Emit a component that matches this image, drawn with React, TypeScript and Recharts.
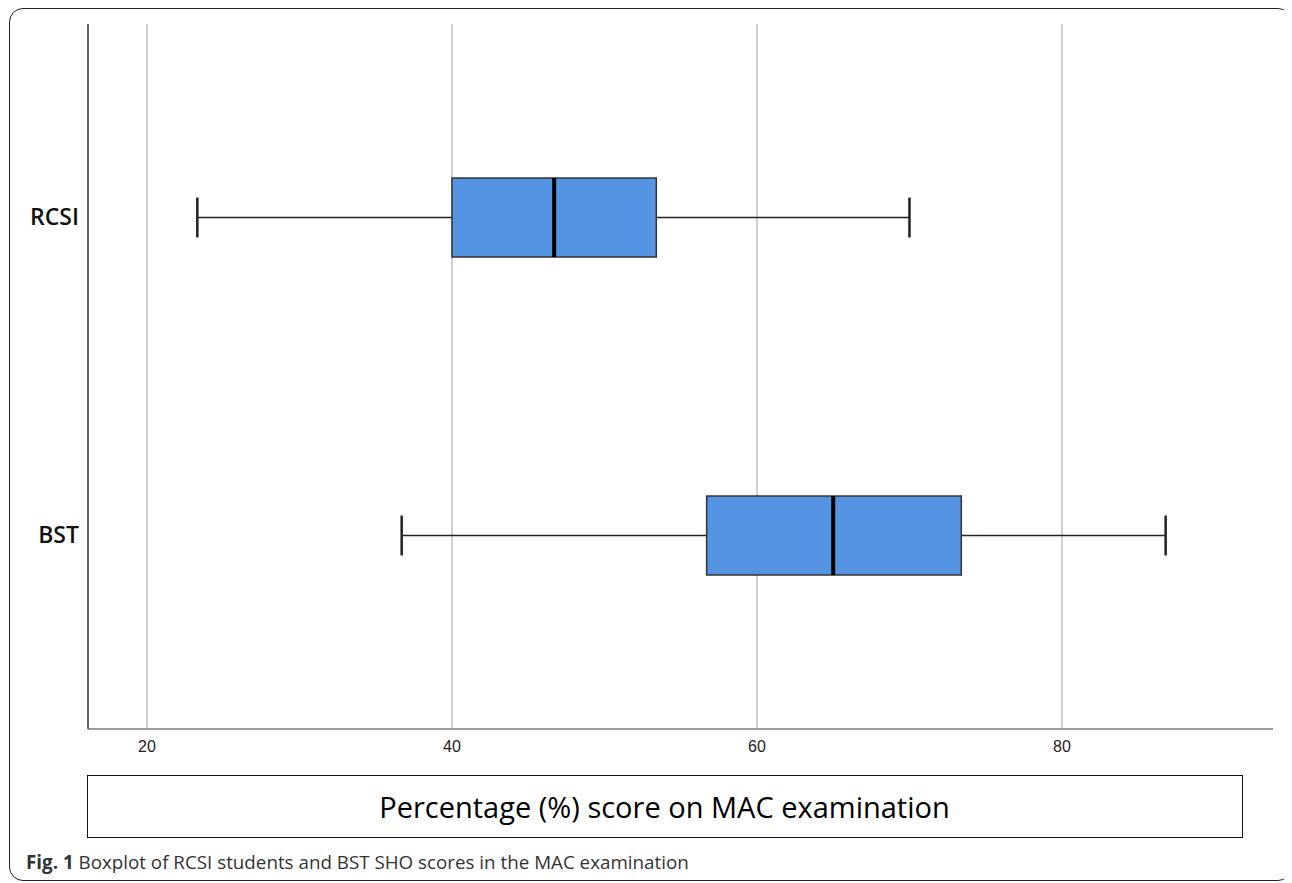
import React from "react";
import { Bar, CartesianGrid, ComposedChart, XAxis, YAxis } from "recharts";

const groups = ["RCSI", "BST"];
const minScores = [23.3, 36.7];
const q1Scores = [40.0, 56.7];
const medianScores = [46.7, 65.0];
const q3Scores = [53.4, 73.4];
const maxScores = [70.0, 86.8];
const xTicks = [20, 40, 60, 80];

const data = groups.map((g, i) => ({
  group: g,
  min: minScores[i],
  q1: q1Scores[i],
  median: medianScores[i],
  q3: q3Scores[i],
  max: maxScores[i],
  box: [q1Scores[i], q3Scores[i]],
}));

// box drawn from the bar's own geometry; whiskers/median scaled off the same px-per-unit
function BoxShape(props: any) {
  const { x, y, width, height, payload } = props;
  if (!payload || !width) return null;
  const k = width / (payload.q3 - payload.q1);
  const px = (v: number) => x + (v - payload.q1) * k;
  const cy = y + height / 2;
  const cap = 20;
  return (
    <g>
      <line x1={px(payload.min)} x2={x} y1={cy} y2={cy} stroke="#222" strokeWidth={1.6} />
      <line x1={x + width} x2={px(payload.max)} y1={cy} y2={cy} stroke="#222" strokeWidth={1.6} />
      <line x1={px(payload.min)} x2={px(payload.min)} y1={cy - cap} y2={cy + cap} stroke="#222" strokeWidth={2.5} />
      <line x1={px(payload.max)} x2={px(payload.max)} y1={cy - cap} y2={cy + cap} stroke="#222" strokeWidth={2.5} />
      <rect x={x} y={y} width={width} height={height} fill="#5594e3" stroke="#333" strokeWidth={1.5} />
      <line x1={px(payload.median)} x2={px(payload.median)} y1={y} y2={y + height} stroke="#000" strokeWidth={4} />
    </g>
  );
}

export default function App() {
  return (
    <div
      style={{
        position: "relative",
        marginLeft: 1,
        width: 1283,
        height: 873,
        boxSizing: "border-box",
        border: "1.5px solid #222",
        borderRadius: 14,
        fontFamily: "'Open Sans', sans-serif",
      }}
    >
      <div style={{ position: "absolute", left: -10.5, top: -9.5 }}>
        <ComposedChart
          width={1292}
          height={770}
          data={data}
          layout="vertical"
          margin={{ top: 24, right: 19, bottom: 0, left: 0 }}
        >
          <CartesianGrid horizontal={false} stroke="#cfcfcf" strokeWidth={2} verticalValues={xTicks} />
          <XAxis
            type="number"
            domain={[16.13, 93.84]}
            ticks={xTicks}
            height={41}
            tickLine={false}
            tickMargin={6}
            axisLine={{ stroke: "#999", strokeWidth: 2 }}
            tick={{ fontSize: 16, fill: "#222", fontFamily: "'Liberation Sans', sans-serif" }}
          />
          <YAxis
            type="category"
            dataKey="group"
            width={88}
            tickLine={false}
            tickMargin={3}
            padding={{ top: 34, bottom: 35 }}
            axisLine={{ stroke: "#666", strokeWidth: 2 }}
            tick={{ fontSize: 23, fill: "#111", fontFamily: "'Open Sans', sans-serif", fontWeight: 600 }}
          />
          <Bar dataKey="box" barSize={79} shape={BoxShape} isAnimationActive={false} />
        </ComposedChart>
      </div>
      <div
        style={{
          position: "absolute",
          left: 76.5,
          top: 765.5,
          width: 1156,
          height: 63,
          boxSizing: "border-box",
          border: "1.5px solid #111",
          display: "flex",
          alignItems: "center",
          justifyContent: "center",
          fontSize: 29,
          color: "#000",
        }}
      >
        Percentage (%) score on MAC examination
      </div>
      <div
        style={{
          position: "absolute",
          left: 16,
          top: 840,
          fontSize: 18.8,
          color: "#333",
          whiteSpace: "nowrap",
        }}
      >
        <b>Fig. 1</b> Boxplot of RCSI students and BST SHO scores in the MAC examination
      </div>
    </div>
  );
}
